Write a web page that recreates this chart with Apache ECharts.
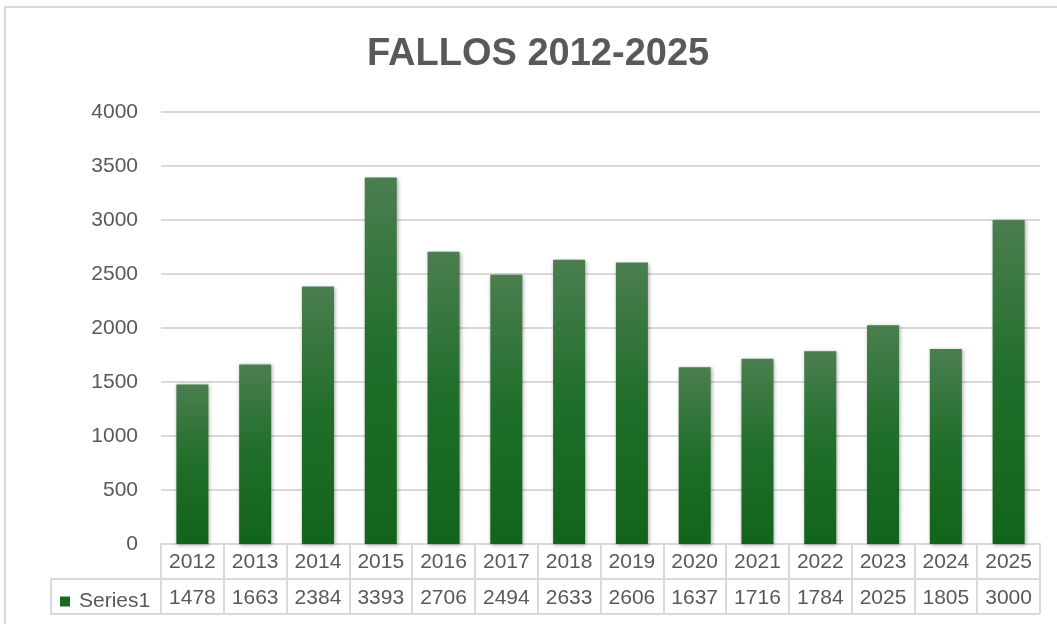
<!DOCTYPE html>
<html>
<head>
<meta charset="utf-8">
<title>FALLOS 2012-2025</title>
<script src="https://cdn.jsdelivr.net/npm/echarts@6/dist/echarts.min.js"></script>
<style>
html, body { margin: 0; padding: 0; background: #fff; }
#fallos { width: 1057px; height: 624px; }
</style>
</head>
<body>
<div id="fallos"></div>
<script>
// datos
var anios = ['2012', '2013', '2014', '2015', '2016', '2017', '2018', '2019', '2020', '2021', '2022', '2023', '2024', '2025'];
var fallos = [1478, 1663, 2384, 3393, 2706, 2494, 2633, 2606, 1637, 1716, 1784, 2025, 1805, 3000];
var nombreSerie = 'Series1';

var gris = '#d9d9d9';
var texto = '#595959';
var fuente = '"Liberation Sans", Arial, sans-serif';

var chart = echarts.init(document.getElementById('fallos'));

var option = {
  animation: false,
  title: {
    text: 'FALLOS 2012-2025',
    left: 362,
    top: 31,
    textStyle: { fontSize: 38, fontWeight: 'bold', color: texto, fontFamily: fuente }
  },
  legend: {
    data: [{ name: nombreSerie, itemStyle: { color: '#1b6a24' } }],
    left: 55,
    top: 586,
    icon: 'rect',
    itemWidth: 10,
    itemHeight: 10,
    textStyle: { fontSize: 21, color: texto, fontFamily: fuente, padding: [0, 0, 0, 4] },
    selectedMode: false
  },
  graphic: [
    // marco del grafico
    { type: 'rect', z: -1, shape: { x: 5, y: 7, width: 1100, height: 700 },
      style: { fill: 'none', stroke: gris, lineWidth: 2 } },
    // celda de la leyenda en la tabla
    { type: 'rect', shape: { x: 51, y: 579, width: 110, height: 35 },
      style: { fill: 'none', stroke: gris, lineWidth: 2 } }
  ],
  grid: [
    { left: 161, right: 17, top: 112, height: 432, containLabel: false },
    { left: 161, right: 17, top: 544, height: 70, containLabel: false }
  ],
  xAxis: [
    {
      type: 'category',
      gridIndex: 0,
      data: anios,
      axisLine: { lineStyle: { color: gris, width: 2 } },
      axisTick: { show: false },
      axisLabel: {
        margin: 0,
        interval: 0,
        formatter: function (v, i) {
          return '{a|' + v + '}\n{b|' + fallos[i] + '}';
        },
        rich: {
          a: { fontSize: 21, lineHeight: 36, color: texto, fontFamily: fuente },
          b: { fontSize: 21, lineHeight: 36, color: texto, fontFamily: fuente }
        }
      }
    },
    {
      type: 'category',
      gridIndex: 1,
      data: anios,
      axisLine: { show: false },
      axisTick: { show: false },
      axisLabel: { show: false },
      splitLine: { show: true, interval: 0, lineStyle: { color: gris, width: 2 } }
    }
  ],
  yAxis: [
    {
      type: 'value',
      gridIndex: 0,
      min: 0,
      max: 4000,
      interval: 500,
      axisLine: { show: false },
      axisTick: { show: false },
      axisLabel: {
        margin: 23, fontSize: 21, color: texto, fontFamily: fuente,
        formatter: function (v) { return String(v); }
      },
      splitLine: { lineStyle: { color: gris, width: 2 } }
    },
    {
      type: 'value',
      gridIndex: 1,
      min: 0,
      max: 2,
      interval: 1,
      axisLine: { show: false },
      axisTick: { show: false },
      axisLabel: { show: false },
      splitLine: { show: true, lineStyle: { color: gris, width: 2 } }
    }
  ],
  series: [
    {
      name: nombreSerie,
      type: 'bar',
      xAxisIndex: 0,
      yAxisIndex: 0,
      data: fallos,
      barWidth: '51%',
      itemStyle: {
        color: new echarts.graphic.LinearGradient(0, 0, 0, 1, [
          { offset: 0, color: '#4b7e50' },
          { offset: 0.5, color: '#1f6e29' },
          { offset: 1, color: '#12631c' }
        ]),
        shadowColor: 'rgba(0,0,0,0.35)',
        shadowBlur: 4,
        shadowOffsetX: 1,
        shadowOffsetY: 1
      }
    }
  ]
};

chart.setOption(option, true);
window.addEventListener('resize', () => chart.resize());
</script>
</body>
</html>
